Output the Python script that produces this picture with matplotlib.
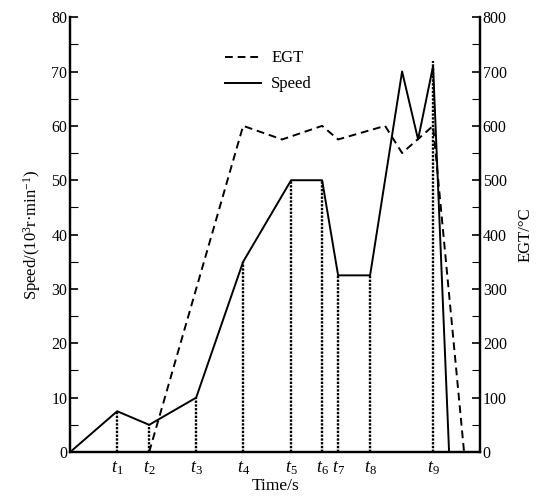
import matplotlib
matplotlib.use("Agg")
import matplotlib.pyplot as plt
from matplotlib.ticker import MultipleLocator

plt.rcParams['font.family'] = ['Liberation Serif', 'DejaVu Serif']
plt.rcParams['mathtext.fontset'] = 'custom'
plt.rcParams['mathtext.rm'] = 'Liberation Serif'
plt.rcParams['mathtext.it'] = 'Liberation Serif:italic'

# event times (arbitrary time units) and their labels
t_marks = [47, 79, 126, 173, 221, 252, 268, 300, 363]
t_labels = ['$t_{%d}$' % i for i in range(1, 10)]

# speed, 10^3 r/min
speed_t = [0, 47, 79, 126, 173, 221, 252, 268, 300, 332, 348, 363, 379]
speed_v = [0, 7.5, 5, 10, 35, 50, 50, 32.5, 32.5, 70, 57.5, 71, 0]

# exhaust gas temperature, degC
egt_t = [79, 173, 212, 252, 268, 315, 332, 363, 394]
egt_v = [0, 600, 575, 600, 575, 600, 550, 600, 0]

# speed reached at each event time (height of the dotted drop lines)
mark_speed = [7.5, 5, 10, 35, 50, 50, 32.5, 32.5, 72]

fig = plt.figure(figsize=(5.4, 4.97), dpi=100)
ax = fig.add_axes([0.13, 0.0905, 0.759, 0.875])
ax2 = ax.twinx()

for t, s in zip(t_marks, mark_speed):
    ax.vlines(t, 0, s, colors='black', linestyles=(0, (1, 0.6)), linewidth=1.7)

l_speed, = ax.plot(speed_t, speed_v, color='black', linewidth=1.4, label='Speed')
l_egt, = ax2.plot(egt_t, egt_v, color='black', linewidth=1.4,
                  linestyle=(0, (4, 2.5)), label='EGT')

ax.set_xlim(0, 410)
ax.set_ylim(0, 80)
ax2.set_ylim(0, 800)

ax.set_xticks(t_marks)
ax.set_xticklabels(t_labels, fontsize=13)
ax.tick_params(axis='x', length=0, pad=5)

ax.yaxis.set_major_locator(MultipleLocator(10))
ax.yaxis.set_minor_locator(MultipleLocator(5))
ax2.yaxis.set_major_locator(MultipleLocator(100))
ax2.yaxis.set_minor_locator(MultipleLocator(50))
ax.tick_params(axis='y', which='both', direction='in', labelsize=11.5, pad=2)
ax.tick_params(axis='y', which='major', length=6, width=1.2)
ax.tick_params(axis='y', which='minor', length=6, width=0.8)
ax2.tick_params(axis='y', which='both', direction='in', labelsize=11.5, pad=2)
ax2.tick_params(axis='y', which='major', length=6, width=1.2)
ax2.tick_params(axis='y', which='minor', length=6, width=0.8)

for a in (ax, ax2):
    a.spines['top'].set_visible(False)
    for side in ('left', 'right', 'bottom'):
        a.spines[side].set_linewidth(1.6)

ax.set_xlabel('Time/s', fontsize=12.5, labelpad=1)
ax.set_ylabel('Speed/(10$^3$r·min$^{-1}$)', fontsize=12, labelpad=6)
ax2.set_ylabel('EGT/°C', fontsize=12, labelpad=8)

ax.legend([l_egt, l_speed], ['EGT', 'Speed'], loc='upper left',
          bbox_to_anchor=(0.34, 0.958), frameon=False, fontsize=12,
          handlelength=2.2, handletextpad=0.6, labelspacing=0.6)

fig.savefig('out.png', dpi=100)
